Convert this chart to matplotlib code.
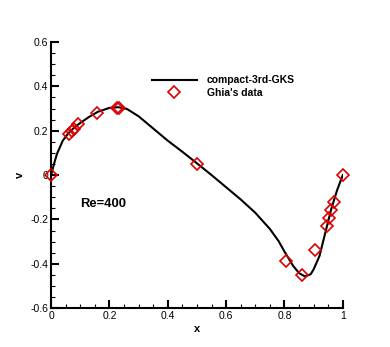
import matplotlib
matplotlib.use("Agg")
import matplotlib.pyplot as plt
from matplotlib.ticker import MultipleLocator, FuncFormatter

plt.rcParams['font.family'] = ['Liberation Sans', 'DejaVu Sans']

# compact-3rd-GKS result
gks_x = [0.0, 0.01, 0.02, 0.04, 0.06, 0.08, 0.10, 0.13, 0.16, 0.20, 0.23, 0.26,
         0.30, 0.35, 0.40, 0.45, 0.50, 0.55, 0.60, 0.65, 0.70, 0.75, 0.78, 0.80,
         0.83, 0.85, 0.87, 0.89, 0.90, 0.92, 0.94, 0.96, 0.98, 1.0]
gks_v = [0.0, 0.05, 0.095, 0.155, 0.19, 0.215, 0.235, 0.262, 0.285, 0.303, 0.306, 0.298,
         0.265, 0.21, 0.155, 0.105, 0.053, 0.0, -0.055, -0.11, -0.17, -0.243, -0.298, -0.345,
         -0.41, -0.442, -0.457, -0.447, -0.425, -0.365, -0.26, -0.155, -0.07, 0.0]

# Ghia et al., Re=400, v along horizontal centreline
ghia_x = [1.0000, 0.9688, 0.9609, 0.9531, 0.9453, 0.9063, 0.8594, 0.8047, 0.5000,
          0.2344, 0.2266, 0.1563, 0.0938, 0.0781, 0.0703, 0.0625, 0.0000]
ghia_v = [0.0, -0.12146, -0.15663, -0.19254, -0.22847, -0.33827, -0.44993, -0.38598,
          0.05188, 0.30174, 0.30203, 0.28124, 0.22965, 0.20920, 0.19713, 0.18360, 0.0]

fig = plt.figure(figsize=(3.9, 3.47), dpi=100)
ax = fig.add_axes([0.131, 0.112, 0.748, 0.767])

ax.plot(gks_x, gks_v, color='black', lw=1.5, label='compact-3rd-GKS')
ax.plot(ghia_x, ghia_v, ls='none', marker='D', ms=6.5, mfc='none', mec='#dd0000',
        mew=1.2, label="Ghia's data", clip_on=False, zorder=3)

ax.set_xlim(0, 1)
ax.set_ylim(-0.6, 0.6)
ax.xaxis.set_major_locator(MultipleLocator(0.2))
ax.xaxis.set_minor_locator(MultipleLocator(0.05))
ax.yaxis.set_major_locator(MultipleLocator(0.2))
ax.yaxis.set_minor_locator(MultipleLocator(0.05))
fmt = FuncFormatter(lambda v, p: '%g' % round(v, 2))
ax.xaxis.set_major_formatter(fmt)
ax.yaxis.set_major_formatter(fmt)

for s in ['top', 'right']:
    ax.spines[s].set_visible(False)
for s in ['left', 'bottom']:
    ax.spines[s].set_linewidth(1.5)
ax.tick_params(which='major', direction='in', length=6, width=1.5, labelsize=7.5, pad=2)
ax.tick_params(which='minor', direction='in', length=3, width=0.8)

ax.set_xlabel('x', fontsize=8, fontweight='bold', labelpad=2)
ax.set_ylabel('v', fontsize=8, fontweight='bold', labelpad=4)

ax.text(0.178, 0.391, 'Re=400', transform=ax.transAxes, fontsize=9.4,
        fontweight='bold', ha='center', va='center')

ax.legend(loc='upper left', bbox_to_anchor=(0.33, 0.89), frameon=False,
          handlelength=4.4, handletextpad=0.9, labelspacing=0.25,
          prop={'size': 7.5, 'weight': 'bold'}, borderaxespad=0)

fig.savefig('out.png', dpi=100)
